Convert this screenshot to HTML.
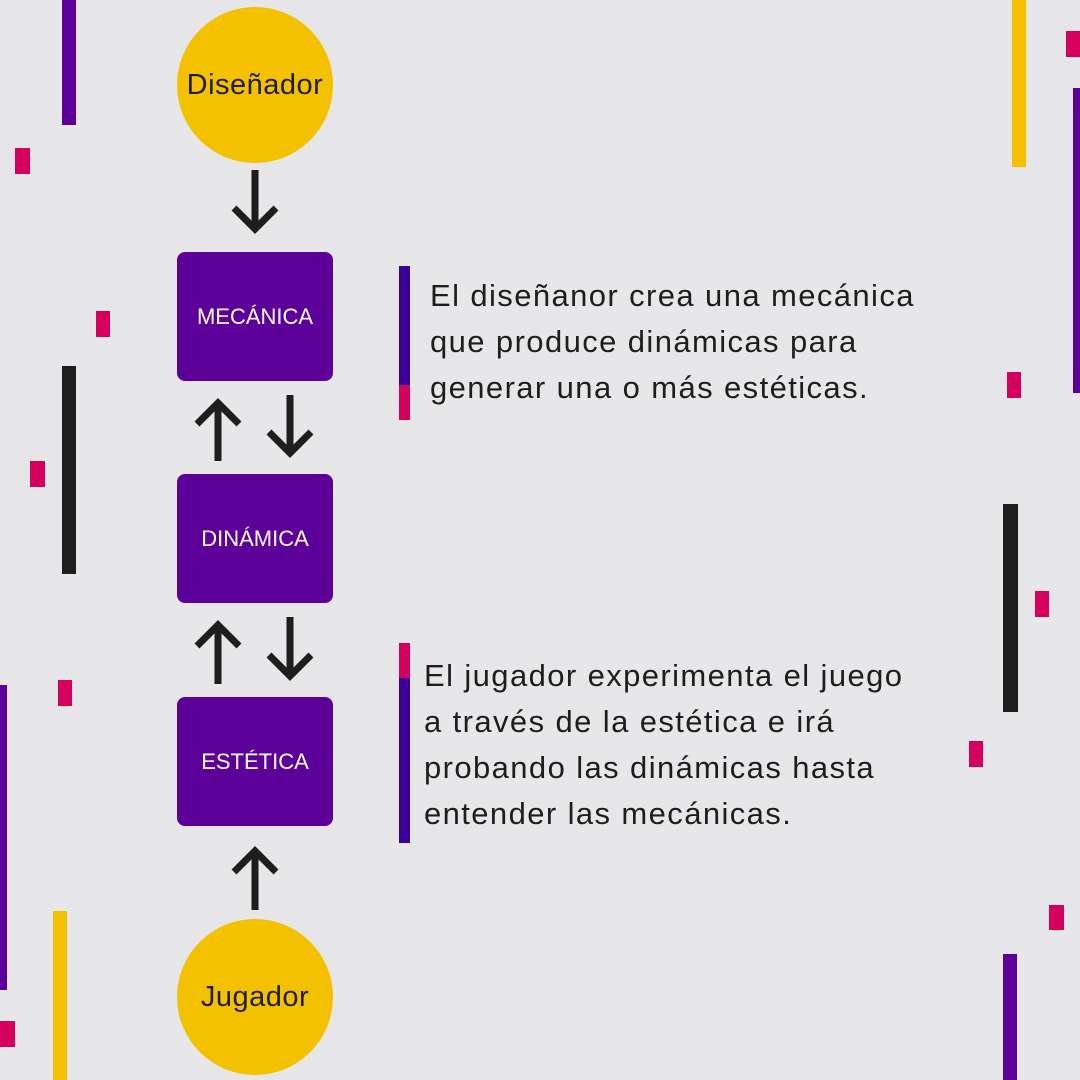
<!DOCTYPE html>
<html><head><meta charset="utf-8"><style>
html,body{margin:0;padding:0}
body{width:1080px;height:1080px;background:#e7e6e9;position:relative;overflow:hidden;font-family:"Liberation Sans",sans-serif}
.r{position:absolute}
.box{position:absolute;left:177px;width:156px;height:129px;background:#5c0099;border-radius:8px;color:#fff;font-size:22px;display:flex;align-items:center;justify-content:center}
.c{position:absolute;left:177px;width:156px;height:156px;border-radius:50%;background:#f4c100;color:#1e1e1e;font-size:29px;letter-spacing:0.5px;display:flex;align-items:center;justify-content:center}
.t{position:absolute;font-size:31px;line-height:46px;color:#1e1e1e;white-space:nowrap;letter-spacing:1.4px}
</style></head><body>
<div class="r" style="left:62px;top:0;width:14px;height:125px;background:#5c0099"></div>
<div class="r" style="left:15px;top:148px;width:15px;height:26px;background:#d6005f"></div>
<div class="r" style="left:96px;top:311px;width:14px;height:26px;background:#d6005f"></div>
<div class="r" style="left:62px;top:366px;width:14px;height:208px;background:#1e1e1e"></div>
<div class="r" style="left:30px;top:461px;width:15px;height:26px;background:#d6005f"></div>
<div class="r" style="left:58px;top:680px;width:14px;height:26px;background:#d6005f"></div>
<div class="r" style="left:0;top:685px;width:7px;height:305px;background:#5c0099"></div>
<div class="r" style="left:53px;top:911px;width:14px;height:169px;background:#f4c100"></div>
<div class="r" style="left:0;top:1021px;width:15px;height:26px;background:#d6005f"></div>
<div class="r" style="left:1012px;top:0;width:14px;height:167px;background:#f4c100"></div>
<div class="r" style="left:1066px;top:31px;width:14px;height:26px;background:#d6005f"></div>
<div class="r" style="left:1073px;top:88px;width:7px;height:305px;background:#5c0099"></div>
<div class="r" style="left:1007px;top:372px;width:14px;height:26px;background:#d6005f"></div>
<div class="r" style="left:1003px;top:504px;width:15px;height:208px;background:#1e1e1e"></div>
<div class="r" style="left:1035px;top:591px;width:14px;height:26px;background:#d6005f"></div>
<div class="r" style="left:969px;top:741px;width:14px;height:26px;background:#d6005f"></div>
<div class="r" style="left:1049px;top:905px;width:15px;height:25px;background:#d6005f"></div>
<div class="r" style="left:1003px;top:954px;width:14px;height:126px;background:#5c0099"></div>

<div class="c" style="top:7px">Diseñador</div>
<div class="c" style="top:919px">Jugador</div>
<div class="box" style="top:252px">MECÁNICA</div>
<div class="box" style="top:474px">DINÁMICA</div>
<div class="box" style="top:697px">ESTÉTICA</div>

<svg class="r" style="left:0;top:0" width="1080" height="1080">
<g stroke="#1e1e1e" stroke-width="7" fill="none" stroke-linecap="butt">
<path d="M255 170V229M234 208L255 229L276 208"/>
<path d="M218 461V403M197 424L218 403L239 424"/>
<path d="M290 395V453M269 432L290 453L311 432"/>
<path d="M218 684V625M197 646L218 625L239 646"/>
<path d="M290 617V676M269 655L290 676L311 655"/>
<path d="M255 910V851M234 872L255 851L276 872"/>
</g></svg>

<div class="r" style="left:399px;top:266px;width:11px;height:119px;background:#3b0099"></div>
<div class="r" style="left:399px;top:385px;width:11px;height:35px;background:#d6005f"></div>
<div class="t" style="left:430px;top:273px">El diseñanor crea una mecánica<br>que produce dinámicas para<br>generar una o más estéticas.</div>

<div class="r" style="left:399px;top:643px;width:11px;height:35px;background:#d6005f"></div>
<div class="r" style="left:399px;top:678px;width:11px;height:165px;background:#3b0099"></div>
<div class="t" style="left:424px;top:653px">El jugador experimenta el juego<br>a través de la estética e irá<br>probando las dinámicas hasta<br>entender las mecánicas.</div>
</body></html>
